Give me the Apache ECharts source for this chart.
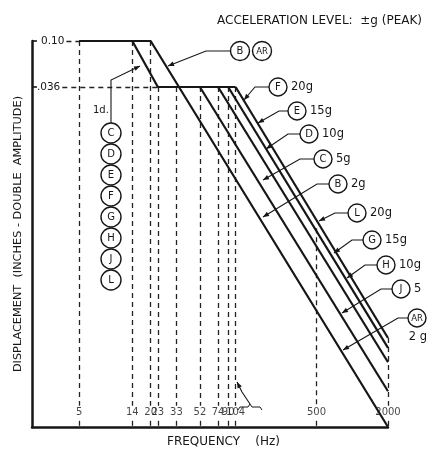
<!DOCTYPE html>
<html><head><meta charset="utf-8">
<script src="https://cdn.jsdelivr.net/npm/echarts@6/dist/echarts.min.js"></script>
<style>html,body{margin:0;padding:0;background:#fff}#c{width:433px;height:450px}</style>
</head><body><div id="c"></div>
<script>
// ---------- data ----------
const freqTicks   = [5, 14, 20, 23, 33, 52, 74, 90, 104, 500, 2000];
const tickLabels  = ['5','14','20','23','33','52','74','90','104','500','2000'];
// upper end of each dashed frequency guide (displacement, in.)
const guideTopDisp = [0.10, 0.10, 0.10, 0.036, 0.036, 0.036, 0.036, 0.036, 0.036, 0.00157, 0.000137];

const dispLevels   = [0.10, 0.036];
const dispLabels   = ['0.10', '.036'];
const dispGuideFrom = [3.9, 3.6];
const dispGuideTo   = [5, 23];

// envelope for C, D, E, F, G, H, J, L
const curveCLfreq = [5, 14, 23, 104];
const curveCLdisp = [0.10, 0.10, 0.036, 0.036];
// envelope for B, AR (2 g)
const curveBARfreq = [5, 20, 2000];
const curveBARdisp = [0.10, 0.10, 0.000019];
// constant-acceleration lines
const slopeNames     = ['5g', '10g', '15g', '20g'];
const slopeStartFreq = [52, 74, 90, 104];
const slopeStartDisp = [0.036, 0.036, 0.036, 0.036];
const slopeEndFreq   = [2000, 2000, 2000, 2000];
const slopeEndDisp   = [0.000042, 0.000080, 0.000110, 0.000137];

// ---------- layout constants ----------
const X_MIN = 2, X_MAX = 2000, Y_MIN = 0.000019, Y_MAX = 0.10;
const LABEL_DISP = 0.000026;       // vertical place of the frequency labels
const GAP_TOP = 0.0000305, GAP_BOTTOM = 0.0000218;   // break in dashed guides around labels
const labelShift = [0,0,-1,3.5,0,0,-1,2,12,0,10];
const FONT = 'DejaVu Sans';
const INK = '#161616';

const chart = echarts.init(document.getElementById('c'), null, {renderer:'canvas'});

const solid = {color: INK, width: 2.2};
const series = [];
series.push({type:'line', name:'C-L', data: curveCLfreq.map((f,i)=>[f, curveCLdisp[i]]),
  symbol:'none', lineStyle: solid, z:5, silent:true});
series.push({type:'line', name:'B-AR', data: curveBARfreq.map((f,i)=>[f, curveBARdisp[i]]),
  symbol:'none', lineStyle: solid, z:5, silent:true});
slopeNames.forEach((n,i)=>{
  series.push({type:'line', name:n,
    data:[[slopeStartFreq[i], slopeStartDisp[i]], [slopeEndFreq[i], slopeEndDisp[i]]],
    symbol:'none', lineStyle: solid, z:5, silent:true});
});

const guideData = [];
freqTicks.forEach((f,i)=>{
  guideData.push([{coord:[f, guideTopDisp[i]]}, {coord:[f, GAP_TOP]}]);
  guideData.push([{coord:[f, GAP_BOTTOM]}, {coord:[f, Y_MIN]}]);
});
dispLevels.forEach((d,i)=>{
  guideData.push([{coord:[dispGuideFrom[i], d],
    label:{show:true, position:'start', distance:2, formatter: dispLabels[i],
      color: INK, fontFamily: FONT, fontSize: 10.5}},
    {coord:[dispGuideTo[i], d]}]);
  guideData.push([{coord:[X_MIN, d], lineStyle:{type:'solid', width:1.6, color:INK}}, {coord:[2.2, d]}]);
});
series.push({type:'line', name:'guides', data:[[5,0.1]], symbol:'none', lineStyle:{width:0}, z:2, silent:true,
  markLine:{silent:true, symbol:'none', animation:false, label:{show:false},
    lineStyle:{type:[5,4], color:'#222', width:1.3}, data: guideData}});

series.push({type:'scatter', name:'ticks', symbolSize:0, z:6, silent:true,
  data: freqTicks.map((f,i)=>({value:[f, LABEL_DISP], label:{offset:[labelShift[i],0]}})),
  label:{show:true, position:'inside', formatter: p=>tickLabels[p.dataIndex],
    color: INK, fontFamily: FONT, fontSize: 10},
  labelLayout:{hideOverlap:false}});

// ---------- annotations ----------
const g = [];
function txt(x,y,t,size,align,rot){
  g.push({type:'text', x, y, rotation: rot||0, z:12,
    style:{text:t, fill:INK, fontFamily:FONT, fontSize:size, align:align||'left', verticalAlign:'middle'}});
}
function circ(cx,cy,t,r){
  g.push({type:'circle', shape:{cx,cy,r}, style:{fill:'#fff', stroke:INK, lineWidth:1.4}, z:10});
  g.push({type:'text', x:cx, y:cy+0.5, z:11,
    style:{text:t, fill:INK, fontFamily:FONT, fontSize: t.length>1?8.5:10, align:'center', verticalAlign:'middle'}});
}
function leader(pts){
  g.push({type:'polyline', shape:{points:pts}, style:{stroke:INK, lineWidth:1.1, fill:null}, z:9});
  const p2 = pts[pts.length-1], p1 = pts[pts.length-2];
  let dx = p2[0]-p1[0], dy = p2[1]-p1[1]; const L = Math.hypot(dx,dy); dx/=L; dy/=L;
  const bx = p2[0]-dx*6, by = p2[1]-dy*6, px = -dy*2.4, py = dx*2.4;
  g.push({type:'polygon', shape:{points:[p2,[bx+px,by+py],[bx-px,by-py]]}, style:{fill:INK}, z:9});
}

txt(217, 21, 'ACCELERATION LEVEL:  ±g (PEAK)', 12, 'left');
txt(18, 234, 'DISPLACEMENT  (INCHES - DOUBLE  AMPLITUDE)', 11.3, 'center', Math.PI/2);
txt(167, 442, 'FREQUENCY    (Hz)', 12, 'left');

// B / AR callout
leader([[230,51],[206,51],[168,66]]);
circ(240,51,'B',9.5); circ(262,51,'AR',9.5);

// 1g callout and left stack
leader([[111,124],[111,80],[140,66]]);
txt(93,110,'1d.',10,'left');
['C','D','E','F','G','H','J','L'].forEach((t,i)=>circ(111, 133+i*21, t, 10));

// right callouts
const callouts = [
  ['F','20g',278,87,[[269,87],[255,87],[244,100]]],
  ['E','15g',297,111,[[288,111],[279,111],[258,123]]],
  ['D','10g',309,134,[[300,134],[288,134],[266,149]]],
  ['C','5g',323,159,[[314,159],[300,159],[263,180]]],
  ['B','2g',338,184,[[329,184],[317,184],[263,217]]],
  ['L','20g',357,213,[[348,213],[335,213],[319,221]]],
  ['G','15g',372,240,[[363,240],[352,240],[334,253]]],
  ['H','10g',386,265,[[377,265],[365,265],[347,278]]],
  ['J','5',401,289,[[392,289],[381,289],[342,313]]],
];
callouts.forEach(c=>{ leader(c[4]); circ(c[2],c[3],c[0],9); txt(c[2]+13,c[3],c[1],11.5,'left'); });
leader([[408,318],[398,318],[343,350]]);
circ(417,318,'AR',9); txt(418,337,'2 g',11.5,'center');

// 104 brace + arrow
g.push({type:'polyline', shape:{points:[[238,410],[240,407],[248,407],[250,404],[252,407],[260,407],[262,410]]},
  style:{stroke:INK, lineWidth:1, fill:null}, z:9});
leader([[250,404],[242,392],[237,382]]);

chart.setOption({
  animation:false,
  backgroundColor:'#fff',
  grid:{left:32, right:45, top:41, bottom:23, containLabel:false, outerBoundsMode:'none'},
  xAxis:{type:'log', logBase:10, min:X_MIN, max:X_MAX,
    axisLine:{show:true, onZero:false, lineStyle:{color:INK, width:2.5}},
    axisTick:{show:false}, axisLabel:{show:false}, splitLine:{show:false}, minorSplitLine:{show:false}},
  yAxis:{type:'log', logBase:10, min:Y_MIN, max:Y_MAX,
    axisLine:{show:true, onZero:false, lineStyle:{color:INK, width:2.5}},
    axisTick:{show:false}, axisLabel:{show:false}, splitLine:{show:false}},
  series,
  graphic: g
});
</script></body></html>
